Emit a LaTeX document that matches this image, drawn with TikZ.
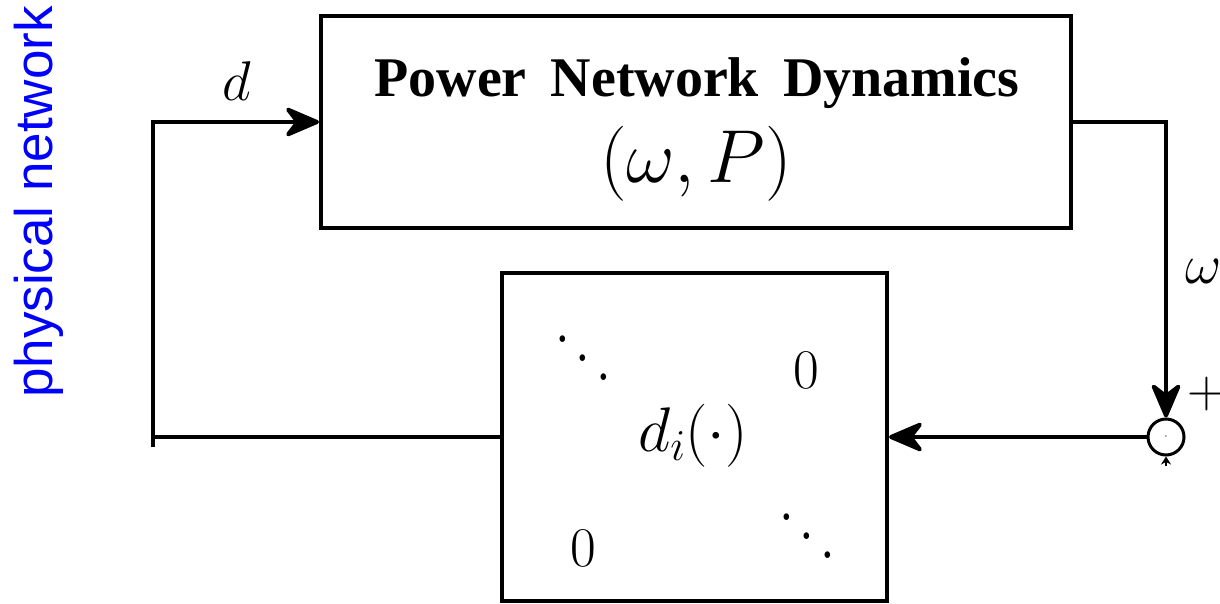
\RequirePackage{fix-cm}
\documentclass[tikz,border=0pt]{standalone}
\usepackage{fontspec}
\usepackage{graphicx}
\newfontfamily\titlefont{Liberation Serif}
\newfontfamily\labelfont{Liberation Sans}
\usetikzlibrary{arrows.meta}
\begin{document}
\begin{tikzpicture}[x=1pt,y=-1pt,line width=4pt,
  blk/.style={draw,rectangle,line width=4pt,inner sep=0pt},
  arr/.style={-{Stealth[length=40pt,width=34pt,inset=13pt,round]}},
  txt/.style={inner sep=0pt,anchor=base},
  bigmath/.style={txt,font=\fontsize{56}{60}\selectfont},
  dd/.style={txt}]
\useasboundingbox (0,0) rectangle (1220,604);
% blocks
\node[blk,minimum width=750pt,minimum height=212pt] (top) at (696,122) {};
\node[blk,minimum width=385pt,minimum height=328pt] (bot) at (694.5,437) {};
\node[draw,circle,line width=3pt,minimum size=36pt,inner sep=0pt] (sum) at (1166,437) {\fontsize{12}{12}\selectfont$\cdot$};
% texts in the top block
\node[txt,font=\titlefont\bfseries\fontsize{56}{60}\selectfont] (title) at (697,97) {Power\hspace{24pt}Network\hspace{24pt}Dynamics};
\node[txt,font=\fontsize{75}{80}\selectfont] (state) at (696,183) {$(\omega,P)$};
% texts in the bottom block
\node[dd] (dd1) at (583,386.7) {\scalebox{5.27}[6.33]{$\ddots$}};
\node[dd] (dd2) at (807,564.7) {\scalebox{5.27}[6.33]{$\ddots$}};
\node[bigmath] (z1) at (806,388) {$0$};
\node[bigmath] (z2) at (583,566) {$0$};
\node[txt,font=\fontsize{63}{66}\selectfont] (di) at (693,451) {$d_i(\cdot)$};
% labels
\node[bigmath] (dl) at (237,101) {$d$};
\node[bigmath] (wl) at (1204,283) {$\omega$};
\node[txt,font=\fontsize{54}{58}\selectfont] (pl) at (1207,407.5) {$+$};
\node[txt,rotate=90,text=blue,font=\labelfont\fontsize{53}{60}\selectfont] (phys) at (52,202) {physical network};
% connectors
\coordinate (c1) at (153,447);
\coordinate (bt) at (1166,466);
\draw[arr] (top.east) -| (sum.north);
\draw[arr] (sum.west) -- (bot.east);
\draw (bot.west) -- (153,437);
\draw[arr] (c1) |- (top.west);
\draw[line width=1.5pt,-{Stealth[length=8pt,width=10pt]}] (bt) -- (sum.south);
\end{tikzpicture}
\end{document}
